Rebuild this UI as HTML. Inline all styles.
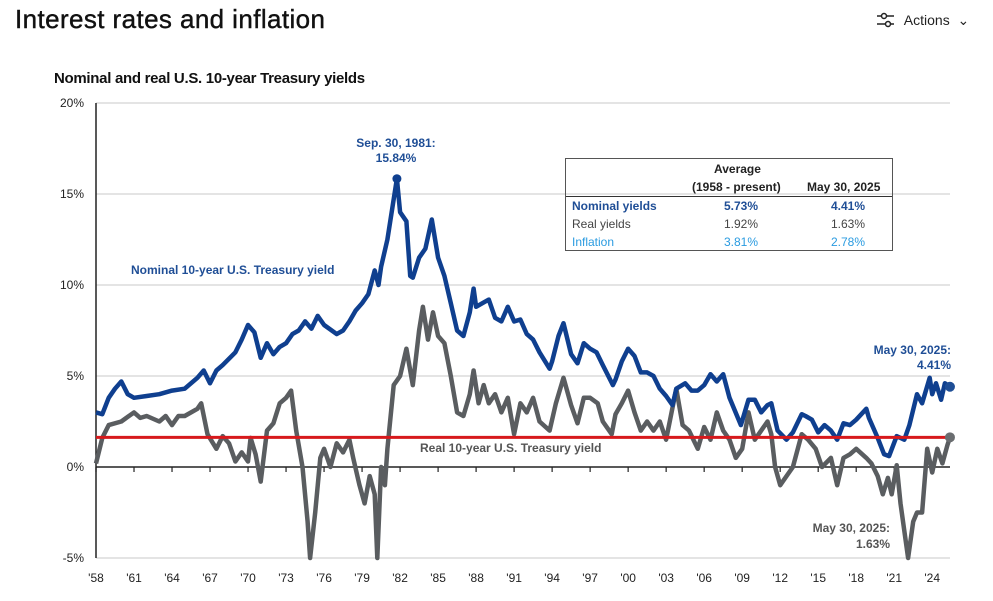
<!DOCTYPE html>
<html><head><meta charset="utf-8">
<style>
body{margin:0;width:993px;height:601px;background:#fff;font-family:"Liberation Sans",sans-serif;overflow:hidden;position:relative}
.t{position:absolute;white-space:nowrap}
</style></head><body>
<div class="t" style="left:15px;top:4px;font-size:26px;color:#111;letter-spacing:0.4px;-webkit-text-stroke:0.4px #111">Interest rates and inflation</div>
<div class="t" style="left:876px;top:12px;font-size:14px;color:#222">
<svg width="20" height="16" style="vertical-align:-3px"><line x1="1" y1="4" x2="18" y2="4" stroke="#222" stroke-width="1.5"/><circle cx="8" cy="4" r="2.5" fill="#fff" stroke="#222" stroke-width="1.5"/><line x1="1" y1="12" x2="18" y2="12" stroke="#222" stroke-width="1.5"/><circle cx="12" cy="12" r="2.5" fill="#fff" stroke="#222" stroke-width="1.5"/></svg>
&nbsp;Actions &nbsp;⌄</div>
<div class="t" style="left:54px;top:70px;font-size:15px;font-weight:bold;color:#111;letter-spacing:-0.3px">Nominal and real U.S. 10-year Treasury yields</div>
<svg id="chart" width="993" height="601" style="position:absolute;left:0;top:0"></svg>
<div style="position:absolute;left:565px;top:158px;width:326px;height:91px;border:1.5px solid #555;font-size:12px">
<div class="t" style="left:148px;top:3px;font-weight:bold;color:#222">Average</div>
<div class="t" style="left:126px;top:21px;font-weight:bold;color:#222">(1958 - present)</div>
<div class="t" style="left:241px;top:21px;font-weight:bold;color:#222">May 30, 2025</div>
<div style="position:absolute;left:0;top:37px;width:326px;border-top:1.5px solid #333"></div>
<div class="t" style="left:6px;top:40px;font-weight:bold;color:#1f4e96">Nominal yields</div>
<div class="t" style="left:158px;top:40px;font-weight:bold;color:#1f4e96">5.73%</div>
<div class="t" style="left:265px;top:40px;font-weight:bold;color:#1f4e96">4.41%</div>
<div class="t" style="left:6px;top:58px;color:#444">Real yields</div>
<div class="t" style="left:158px;top:58px;color:#444">1.92%</div>
<div class="t" style="left:265px;top:58px;color:#444">1.63%</div>
<div class="t" style="left:6px;top:76px;color:#2a9be0">Inflation</div>
<div class="t" style="left:158px;top:76px;color:#2a9be0">3.81%</div>
<div class="t" style="left:265px;top:76px;color:#2a9be0">2.78%</div>
</div>
<script>
const yTicks=[20,15,10,5,0,-5];
const xTickYears=[1958,1961,1964,1967,1970,1973,1976,1979,1982,1985,1988,1991,1994,1997,2000,2003,2006,2009,2012,2015,2018,2021,2024];
const nomX=[1958,1958.5,1959,1959.5,1960,1960.5,1961,1962,1963,1964,1965,1966,1966.5,1967,1967.5,1968,1969,1969.5,1970,1970.5,1971,1971.5,1972,1972.5,1973,1973.5,1974,1974.5,1975,1975.5,1976,1977,1977.5,1978,1978.5,1979,1979.5,1980,1980.3,1980.5,1981,1981.75,1982,1982.5,1982.8,1983,1983.5,1984,1984.5,1985,1985.5,1986,1986.5,1987,1987.5,1987.8,1988,1988.5,1989,1989.5,1990,1990.5,1991,1991.5,1992,1992.5,1993,1993.8,1994,1994.5,1994.9,1995.5,1996,1996.5,1997,1997.5,1998,1998.8,1999,1999.5,2000,2000.5,2001,2001.5,2002,2002.5,2003,2003.5,2003.8,2004.5,2005,2005.5,2006,2006.5,2007,2007.5,2008,2008.9,2009.5,2010,2010.5,2011,2011.3,2011.8,2012.5,2013,2013.7,2014,2014.5,2015,2015.5,2016,2016.5,2017,2017.5,2018,2018.8,2019,2019.7,2020.2,2020.6,2021.2,2021.8,2022.2,2022.8,2023.2,2023.8,2024,2024.3,2024.7,2025,2025.4];
const nomY=[3.0,2.9,3.8,4.3,4.7,4.0,3.8,3.9,4.0,4.2,4.3,4.9,5.3,4.6,5.3,5.6,6.3,7.0,7.8,7.4,6.0,6.8,6.2,6.6,6.8,7.3,7.5,8.0,7.6,8.3,7.8,7.3,7.5,8.0,8.6,9.0,9.5,10.8,10.0,11.0,12.5,15.84,14.0,13.5,10.5,10.4,11.5,12.0,13.6,11.5,10.5,9.0,7.5,7.2,8.5,9.8,8.8,9.0,9.2,8.2,8.0,8.8,8.0,8.1,7.3,7.0,6.3,5.4,5.8,7.2,7.9,6.2,5.7,6.8,6.5,6.3,5.6,4.5,4.8,5.8,6.5,6.1,5.2,5.2,5.0,4.3,3.9,3.4,4.3,4.6,4.2,4.2,4.5,5.1,4.7,5.1,3.8,2.3,3.7,3.7,3.0,3.4,3.5,2.0,1.5,1.9,2.9,2.8,2.6,1.9,2.3,2.0,1.5,2.4,2.3,2.6,3.2,2.7,1.6,0.7,0.6,1.7,1.5,2.3,4.0,3.5,4.9,4.0,4.6,3.7,4.6,4.41];
const realX=[1958,1958.5,1959,1960,1961,1961.5,1962,1963,1963.5,1964,1964.5,1965,1966,1966.3,1966.8,1967.5,1968,1968.5,1969,1969.5,1970,1970.2,1970.6,1971,1971.5,1972,1972.5,1973,1973.4,1973.8,1974.3,1974.7,1974.9,1975.3,1975.7,1976,1976.5,1977,1977.5,1978,1978.3,1978.8,1979.2,1979.6,1980,1980.2,1980.5,1980.8,1981,1981.5,1982,1982.5,1983,1983.5,1983.8,1984.2,1984.6,1985,1985.5,1986,1986.5,1987,1987.5,1987.8,1988.2,1988.6,1989,1989.5,1990,1990.5,1991,1991.5,1992,1992.5,1993,1993.8,1994.3,1994.9,1995.5,1996,1996.5,1997,1997.6,1998,1998.7,1999,1999.5,2000,2000.5,2001,2001.5,2002,2002.5,2003,2003.8,2004.3,2004.8,2005.5,2006,2006.5,2007,2007.5,2008,2008.5,2009,2009.5,2010,2010.5,2011,2011.3,2011.6,2012,2012.5,2013,2013.7,2014.2,2014.8,2015.3,2016,2016.5,2017,2017.5,2018,2018.8,2019.2,2019.7,2020.1,2020.5,2020.8,2021.2,2021.5,2022.1,2022.5,2022.8,2023.2,2023.6,2024,2024.4,2024.8,2025.2,2025.4];
const realY=[0.2,1.6,2.3,2.5,3.0,2.7,2.8,2.5,2.8,2.3,2.8,2.8,3.2,3.5,1.8,1.0,1.7,1.3,0.3,0.8,0.3,1.6,0.7,-0.8,2.0,2.4,3.5,3.8,4.2,2.0,0.0,-3.0,-5.0,-2.5,0.5,1.0,0.0,1.3,0.8,1.5,0.5,-1.0,-2.0,-0.5,-1.5,-5.0,0.0,-1.0,1.0,4.5,5.0,6.5,4.5,7.5,8.8,7.0,8.5,7.2,6.8,5.0,3.0,2.8,4.0,5.3,3.5,4.5,3.5,4.0,3.0,3.8,1.8,3.5,3.0,3.8,2.5,2.0,3.5,4.9,3.4,2.4,3.8,3.8,3.5,2.5,1.8,2.9,3.5,4.2,3.0,2.0,2.5,2.0,2.5,1.5,4.3,2.3,2.0,1.0,2.2,1.5,3.0,2.0,1.5,0.5,1.0,3.0,1.5,2.0,2.5,1.8,0.0,-1.0,-0.5,0.0,1.8,1.5,1.0,0.0,0.5,-1.0,0.5,0.7,1.0,0.5,0.2,-0.5,-1.5,-0.6,-1.5,0.1,-2.0,-5.0,-3.0,-2.5,-2.5,1.0,-0.3,1.0,0.2,1.2,1.63];
const refLine=1.63;
const NS="http://www.w3.org/2000/svg";
const svg=document.getElementById('chart');
const X0=96,PX=12.67,Y0=467,PY=18.2,XR=950;
const xs=v=>X0+(v-1958)*PX, ys=v=>Y0-v*PY;
function mk(t,a,p){const e=document.createElementNS(NS,t);for(const k in a)e.setAttribute(k,a[k]);(p||svg).appendChild(e);return e;}
yTicks.forEach(v=>{
 if(v!==0){const g=mk('line',{x1:X0,x2:XR,y1:ys(v),y2:ys(v),stroke:'#dcdcdc','stroke-width':1.5});
 
 }
 const t=mk('text',{x:84,y:ys(v)+4,'text-anchor':'end','font-size':12,fill:'#222'});
 t.textContent=v+'%';
 
 
});
const yax=mk('line',{x1:X0,x2:X0,y1:ys(20),y2:ys(-5),stroke:'#222','stroke-width':1.5});


const xax=mk('line',{x1:X0,x2:XR,y1:Y0,y2:Y0,stroke:'#222','stroke-width':1.5});


xTickYears.forEach(yr=>{
 mk('line',{x1:xs(yr),x2:xs(yr),y1:Y0,y2:Y0+5,stroke:'#222','stroke-width':1.2});
 const t=mk('text',{x:xs(yr),y:582,'text-anchor':'middle','font-size':12,fill:'#222'});
 t.textContent="'"+String(yr).slice(2);
 
 
});
function path(xa,ya){return xa.map((x,i)=>(i?'L':'M')+xs(x).toFixed(1)+','+ys(ya[i]).toFixed(1)).join('');}
const rl=mk('path',{d:path(realX,realY),fill:'none',stroke:'#5a5d60','stroke-width':4.5,'stroke-linejoin':'round'});


const nl=mk('path',{d:path(nomX,nomY),fill:'none',stroke:'#0f3f8f','stroke-width':4.5,'stroke-linejoin':'round'});


const red=mk('line',{x1:X0,x2:XR,y1:ys(refLine),y2:ys(refLine),stroke:'#d7191c','stroke-width':3});


const pk=mk('circle',{cx:xs(nomX[41]),cy:ys(nomY[41]),r:4.5,fill:'#0f3f8f'});


const ne=mk('circle',{cx:xs(nomX[nomX.length-1]),cy:ys(nomY[nomY.length-1]),r:5,fill:'#1f4e96'});


const re=mk('circle',{cx:xs(realX[realX.length-1]),cy:ys(realY[realY.length-1]),r:5,fill:'#6a6d70'});


function lab(x,y,txt,col,anchor,name,bold){const t=mk('text',{x:x,y:y,'text-anchor':anchor,'font-size':12,fill:col,'font-weight':bold?'bold':'normal'});t.textContent=txt;
 
 }
lab(396,147,'Sep. 30, 1981:','#1f4e96','middle','peak-label',true);
lab(396,162,'15.84%','#1f4e96','middle','peak-value',true);
lab(131,274,'Nominal 10-year U.S.  Treasury yield','#1f4e96','start','nominal-series-label',true);
lab(420,452,'Real 10-year U.S.  Treasury yield','#555','start','real-series-label',true);
lab(951,354,'May 30, 2025:','#1f4e96','end','nominal-end-label',true);
lab(951,369,'4.41%','#1f4e96','end','nominal-end-value',true);
lab(890,532,'May 30, 2025:','#555','end','real-end-label',true);
lab(890,548,'1.63%','#555','end','real-end-value',true);
</script>
</body></html>
